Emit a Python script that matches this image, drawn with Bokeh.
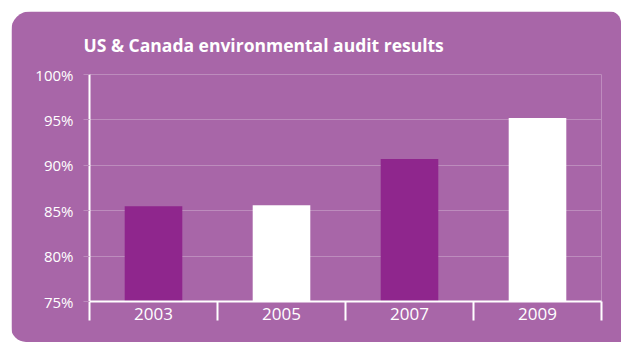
from bokeh.plotting import figure
from bokeh.models import Range1d, FixedTicker, PrintfTickFormatter, ColumnDataSource
from bokeh.embed import file_html
from bokeh.resources import INLINE

title = "US & Canada environmental audit results"
years = ["2003", "2005", "2007", "2009"]
values = [85.5, 85.6, 90.7, 95.2]
y_ticks = [75, 80, 85, 90, 95, 100]

BG = "#a866a8"
DARK = "#8f268d"
WHITE = "#ffffff"
GRID = "#bd8cbd"
bar_colors = [DARK if i % 2 == 0 else WHITE for i in range(len(years))]

xs = [i + 0.5 for i in range(len(years))]
src = ColumnDataSource(dict(x=xs, top=values, color=bar_colors, year=years))

p = figure(width=610, height=331, output_backend="svg", toolbar_location=None,
           x_range=Range1d(0, len(years)), y_range=Range1d(75, 100),
           min_border_left=78, min_border_right=20, min_border_top=63, min_border_bottom=41,
           background_fill_color=BG, border_fill_color=BG, outline_line_color=None)
p.margin = (11, 0, 0, 11)
p.styles = {"border-radius": "20px 12px 0px 15px", "overflow": "hidden"}

p.vbar(x="x", top="top", bottom=75, width=0.45, color="color", source=src, line_color=None)

p.title.text = title
p.title.text_color = WHITE
p.title.text_font = "Open Sans"
p.title.text_font_style = "bold"
p.title.text_font_size = "17.5px"
p.title.align = "left"
p.title.offset = -6
p.title.standoff = 36

# x axis: labels at centers, boundary ticks as minor ticks
xa = p.xaxis[0]
xa.ticker = FixedTicker(ticks=xs, minor_ticks=list(range(len(years) + 1)))
xa.major_label_overrides = {x: y for x, y in zip(xs, years)}
xa.major_tick_out = 0
xa.major_tick_in = 0
xa.minor_tick_out = 19
xa.minor_tick_in = 0
xa.minor_tick_line_color = WHITE
xa.minor_tick_line_width = 2
xa.axis_line_color = WHITE
xa.axis_line_width = 2
xa.major_label_text_color = WHITE
xa.major_label_text_font = "Open Sans"
xa.major_label_text_font_size = "17px"
xa.major_label_standoff = -13

ya = p.yaxis[0]
ya.ticker = FixedTicker(ticks=y_ticks, minor_ticks=[])
ya.formatter = PrintfTickFormatter(format="%d%%")
ya.major_tick_out = 6
ya.major_tick_in = 0
ya.major_tick_line_color = GRID
ya.major_tick_line_width = 1
ya.axis_line_color = WHITE
ya.axis_line_width = 2
ya.major_label_text_color = WHITE
ya.major_label_text_font = "Open Sans"
ya.major_label_text_font_size = "15px"
ya.major_label_standoff = 10

p.xgrid.grid_line_color = None
p.ygrid.ticker = FixedTicker(ticks=y_ticks)
p.ygrid.grid_line_color = GRID
p.ygrid.grid_line_width = 1

open("out.html", "w").write(file_html(p, INLINE))
